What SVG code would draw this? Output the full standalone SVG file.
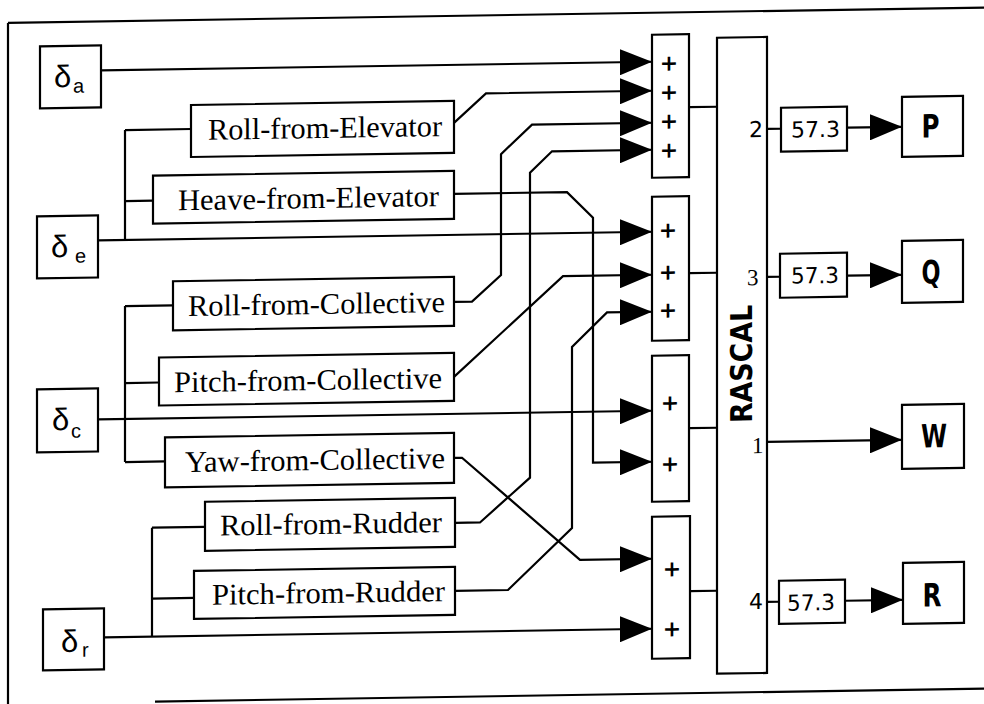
<svg xmlns="http://www.w3.org/2000/svg" width="984" height="704" viewBox="0 0 984 704">
<defs>
<style>
.b{fill:#fff;stroke:#000;stroke-width:2.2}
.w{fill:none;stroke:#000;stroke-width:2.2;stroke-linejoin:miter}
.a{marker-end:url(#ah)}
.lbl{font-family:"Liberation Serif","Times New Roman",serif;font-size:30px;text-anchor:middle}
.d{font-family:"Liberation Sans",Arial,sans-serif;font-size:31px}
.s{font-family:"Liberation Sans",Arial,sans-serif;font-size:20px}
.p{font-family:"DejaVu Sans",sans-serif;font-size:22px;font-weight:bold;text-anchor:middle}
.n{font-family:"DejaVu Sans",sans-serif;font-size:22px}
.ns{font-family:"Liberation Serif",serif;font-size:23px}
.o{font-family:"DejaVu Sans Condensed","DejaVu Sans",sans-serif;font-weight:bold;font-size:32px;text-anchor:middle}
.r{font-family:"DejaVu Sans Condensed","DejaVu Sans",sans-serif;font-weight:bold;font-size:30px;text-anchor:middle}
</style>
<marker id="ah" viewBox="0 0 32 26" refX="32" refY="13" markerWidth="32" markerHeight="26" markerUnits="userSpaceOnUse" orient="auto">
<path d="M0,0 L32,13 L0,26 z" fill="#000"/>
</marker>
</defs>
<rect x="0" y="0" width="984" height="704" fill="#fff"/>
<g transform="skewY(-0.9)">
<g id="frame" class="w">
<path d="M8,23 H992"/>
<path d="M8,23 V720"/>
<path d="M155,704 H992"/>
</g>

<g id="connectors" class="w">
<path class="a" d="M101,72 H652"/>
<path class="a" d="M98,242 H652"/>
<path d="M125,132 V242 M125,132 H191 M125,203 H153"/>
<path class="a" d="M98,421 H652"/>
<path d="M125,308 V464 M125,308 H173 M125,385 H159 M125,464 H165"/>
<path class="a" d="M104,639 H652"/>
<path d="M152,530 V639 M152,530 H205 M152,601 H194"/>
<path class="a" d="M454,130 L486,101 H652"/>
<path class="a" d="M454,201 H567 L593,227 V472 H652"/>
<path class="a" d="M454,309 H472 L501,283 V162 L532,133 H652"/>
<path class="a" d="M455,530 H480 L530,486 V181 L552,160 H652"/>
<path class="a" d="M454,384 L563,285 H652"/>
<path class="a" d="M455,598 H508 L572,537 V356 L607,322 H652"/>
<path class="a" d="M454,465 H462 L580,569 H652"/>
<path d="M689,118 H717 M689,284 H717 M689,439 H717 M690,602 H717"/>
<path d="M767,141 H781 M767,289 H780 M767,614 H779"/>
<path class="a" d="M847,141 H902"/>
<path class="a" d="M847,289 H902"/>
<path class="a" d="M767,454 H902"/>
<path class="a" d="M845,614 H903"/>
</g>

<g id="da"><rect class="b" x="40" y="47" width="61" height="62"/><text class="d" x="54" y="88">δ</text><text class="s" x="73" y="94">a</text></g>
<g id="de"><rect class="b" x="37" y="217" width="61" height="62"/><text class="d" x="51" y="258">δ</text><text class="s" x="75" y="264">e</text></g>
<g id="dc"><rect class="b" x="37" y="390" width="61" height="63"/><text class="d" x="52" y="431">δ</text><text class="s" x="71" y="439">c</text></g>
<g id="dr"><rect class="b" x="43" y="610" width="61" height="61"/><text class="d" x="61" y="653">δ</text><text class="s" x="82" y="658">r</text></g>

<g id="rfe"><rect class="b" x="191" y="108" width="263" height="52"/><text class="lbl" x="325" y="143" textLength="234" lengthAdjust="spacingAndGlyphs">Roll-from-Elevator</text></g>
<g id="hfe"><rect class="b" x="153" y="178" width="301" height="48"/><text class="lbl" x="308.5" y="213" textLength="261" lengthAdjust="spacingAndGlyphs">Heave-from-Elevator</text></g>
<g id="rfc"><rect class="b" x="173" y="284" width="281" height="49"/><text class="lbl" x="316.5" y="319" textLength="257" lengthAdjust="spacingAndGlyphs">Roll-from-Collective</text></g>
<g id="pfc"><rect class="b" x="159" y="360" width="295" height="48"/><text class="lbl" x="308" y="395" textLength="268" lengthAdjust="spacingAndGlyphs">Pitch-from-Collective</text></g>
<g id="yfc"><rect class="b" x="165" y="440" width="289" height="50"/><text class="lbl" x="315" y="475" textLength="260" lengthAdjust="spacingAndGlyphs">Yaw-from-Collective</text></g>
<g id="rfr"><rect class="b" x="205" y="505" width="250" height="49"/><text class="lbl" x="331" y="539" textLength="222" lengthAdjust="spacingAndGlyphs">Roll-from-Rudder</text></g>
<g id="pfr"><rect class="b" x="194" y="574" width="261" height="48"/><text class="lbl" x="328.5" y="608" textLength="233" lengthAdjust="spacingAndGlyphs">Pitch-from-Rudder</text></g>

<g id="sum1"><rect class="b" x="652" y="45" width="37" height="143"/>
<text class="p" x="669" y="81">+</text><text class="p" x="669" y="110">+</text><text class="p" x="669" y="139">+</text><text class="p" x="669" y="168">+</text></g>
<g id="sum2"><rect class="b" x="652" y="207" width="37" height="144"/>
<text class="p" x="668" y="248">+</text><text class="p" x="668" y="290">+</text><text class="p" x="668" y="328">+</text></g>
<g id="sum3"><rect class="b" x="652" y="366" width="37" height="146"/>
<text class="p" x="670" y="421">+</text><text class="p" x="670" y="482">+</text></g>
<g id="sum4"><rect class="b" x="652" y="527" width="38" height="142"/>
<text class="p" x="672" y="587">+</text><text class="p" x="672" y="647">+</text></g>

<g id="rascal"><rect class="b" x="717" y="49" width="50" height="636"/>
<text class="r" transform="translate(752,375.6) rotate(-90)" x="0" y="0" textLength="118" lengthAdjust="spacingAndGlyphs">RASCAL</text>
<text class="n" x="749" y="149" font-size="21">2</text>
<text class="ns" x="747" y="297">3</text>
<text class="ns" x="752" y="465">1</text>
<text class="n" x="749" y="621" font-size="21">4</text>
</g>

<g id="g2"><rect class="b" x="781" y="120" width="66" height="44"/><text class="n" x="791" y="150" textLength="49" lengthAdjust="spacingAndGlyphs">57.3</text></g>
<g id="g3"><rect class="b" x="780" y="266" width="67" height="44"/><text class="n" x="791" y="296" textLength="48" lengthAdjust="spacingAndGlyphs">57.3</text></g>
<g id="g4"><rect class="b" x="779" y="593" width="66" height="43"/><text class="n" x="787" y="623" textLength="48" lengthAdjust="spacingAndGlyphs">57.3</text></g>

<g id="P"><rect class="b" x="902" y="111" width="61" height="60"/><text class="o" x="930.5" y="152" textLength="18" lengthAdjust="spacingAndGlyphs">P</text></g>
<g id="Q"><rect class="b" x="902" y="255" width="61" height="62"/><text class="o" x="931" y="298" textLength="19" lengthAdjust="spacingAndGlyphs">Q</text></g>
<g id="W"><rect class="b" x="902" y="419" width="62" height="64"/><text class="o" x="934" y="462" textLength="26" lengthAdjust="spacingAndGlyphs">W</text></g>
<g id="R"><rect class="b" x="903" y="577" width="61" height="61"/><text class="o" x="932" y="621" textLength="19" lengthAdjust="spacingAndGlyphs">R</text></g>
</g>
</svg>
